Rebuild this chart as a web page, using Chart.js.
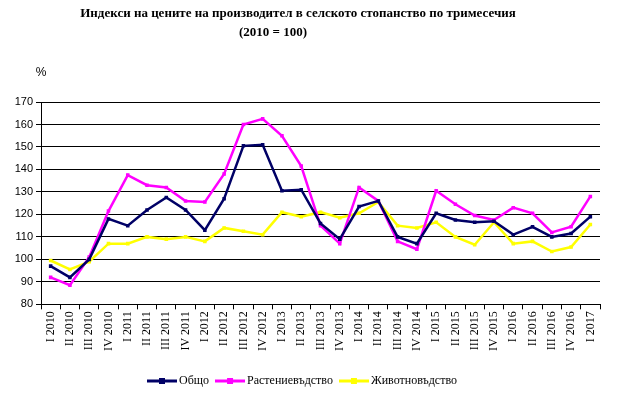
<!DOCTYPE html>
<html>
<head>
<meta charset="utf-8">
<script src="https://cdn.jsdelivr.net/npm/chart.js@4/dist/chart.umd.min.js"></script>
<style>
  html, body { margin: 0; padding: 0; background: #fff; }
  #wrap { width: 630px; height: 394px; }
</style>
</head>
<body>
<div id="wrap"><canvas id="myChart"></canvas></div>
<script>
// quarters I 2010 .. I 2017
const quarters = ['I 2010','II 2010','III 2010','IV 2010',
  'I 2011','II 2011','III 2011','IV 2011',
  'I 2012','II 2012','III 2012','IV 2012',
  'I 2013','II 2013','III 2013','IV 2013',
  'I 2014','II 2014','III 2014','IV 2014',
  'I 2015','II 2015','III 2015','IV 2015',
  'I 2016','II 2016','III 2016','IV 2016',
  'I 2017']

const total = [97, 92, 100, 118, 115, 122, 127.5, 122,
  113, 127, 150.5, 151, 130.5, 131, 116, 109,
  123.5, 126, 110, 107, 120.5, 117.5, 116.5, 117,
  111, 114.5, 110, 111.5, 119]
const crops = [92, 88.5, 101, 121.5, 137.5, 133, 132, 126,
  125.5, 138, 160, 162.5, 155, 141.5, 115, 107,
  132, 126, 108, 104.5, 130.5, 124.5, 119.5, 117.5,
  123, 120.5, 112, 114.5, 128]
const livestock = [99.5, 95.5, 99, 107, 107, 110, 109, 110,
  108, 114, 112.5, 111, 121, 119, 121, 118.5,
  120.5, 125.5, 115, 114, 116.5, 110, 106.5, 116.5,
  107, 108, 103.5, 105.5, 115.5]

const yTicks = [80, 90, 100, 110, 120, 130, 140, 150, 160, 170]

const NAVY = '#000066'
const MAGENTA = '#ff00ff'
const YELLOW = '#ffff00'

// legend symbol: line with small square in the middle
function legendIcon(color) {
  const c = document.createElement('canvas')
  c.width = 30; c.height = 8
  const g = c.getContext('2d')
  g.strokeStyle = color
  g.lineWidth = 3
  g.beginPath(); g.moveTo(0, 4); g.lineTo(30, 4); g.stroke()
  g.fillStyle = color
  g.fillRect(12, 1, 6, 6)
  return c
}

// title and "%" label
const titlePlugin = {
  id: 'titleText',
  afterDraw(chart) {
    const ctx = chart.ctx
    ctx.save()
    ctx.fillStyle = '#000'
    ctx.textAlign = 'center'
    ctx.textBaseline = 'middle'
    ctx.font = 'bold 13px "Liberation Serif", serif'
    ctx.fillText('Индекси на цените на производител в селското стопанство по тримесечия', 298, 14)
    ctx.fillText('(2010 = 100)', 273, 33)
    ctx.font = '12px "Liberation Sans", Arial, sans-serif'
    ctx.fillText('%', 41, 73)
    ctx.restore()
  }
}

const ds = (label, data, color) => ({
  label: label,
  data: data,
  borderColor: color,
  backgroundColor: color,
  borderWidth: 2.5,
  pointStyle: 'rect',
  pointRadius: 2.5,
  pointBorderWidth: 0,
  tension: 0,
  fill: false
})

const ch = document.getElementById('myChart')

new Chart(ch, {
  type: 'line',
  data: {
    labels: quarters,
    datasets: [
      ds('Общо', total, NAVY),
      ds('Растениевъдство', crops, MAGENTA),
      ds('Животновъдство', livestock, YELLOW)
    ]
  },
  options: {
    responsive: true,
    maintainAspectRatio: false,
    animation: false,
    devicePixelRatio: 1,
    layout: { padding: { top: 102, left: 8, right: 30, bottom: -3 } },
    plugins: {
      title: { display: false },
      tooltip: { enabled: false },
      legend: {
        position: 'bottom',
        labels: {
          color: '#000',
          font: { family: '"Liberation Serif", serif', size: 12 },
          usePointStyle: true,
          pointStyleWidth: 22,
          padding: 10,
          generateLabels(chart) {
            return chart.data.datasets.map((d, i) => ({
              text: d.label,
              fillStyle: d.borderColor,
              strokeStyle: d.borderColor,
              pointStyle: legendIcon(d.borderColor),
              lineWidth: 0,
              datasetIndex: i,
              fontColor: '#000'
            }))
          }
        }
      }
    },
    scales: {
      x: {
        offset: true,
        afterFit(axis) { axis.height += 12 },
        grid: { display: true, offset: true, drawOnChartArea: false, tickLength: 5, color: '#000' },
        border: { color: '#000', width: 1 },
        ticks: {
          color: '#000',
          font: { family: '"Liberation Serif", serif', size: 12 },
          minRotation: 90,
          maxRotation: 90,
          autoSkip: false,
          padding: 2
        }
      },
      y: {
        min: 80,
        max: 170,
        afterBuildTicks(axis) {
          axis.ticks = yTicks.map(v => ({ value: v }))
        },
        afterFit(axis) { axis.width = 33 },
        grid: { color: '#000', tickLength: 5 },
        border: { color: '#000', width: 1 },
        ticks: {
          color: '#000',
          font: { family: '"Liberation Sans", Arial, sans-serif', size: 11 },
          padding: 3
        }
      }
    }
  },
  plugins: [titlePlugin]
})
</script>
</body>
</html>
